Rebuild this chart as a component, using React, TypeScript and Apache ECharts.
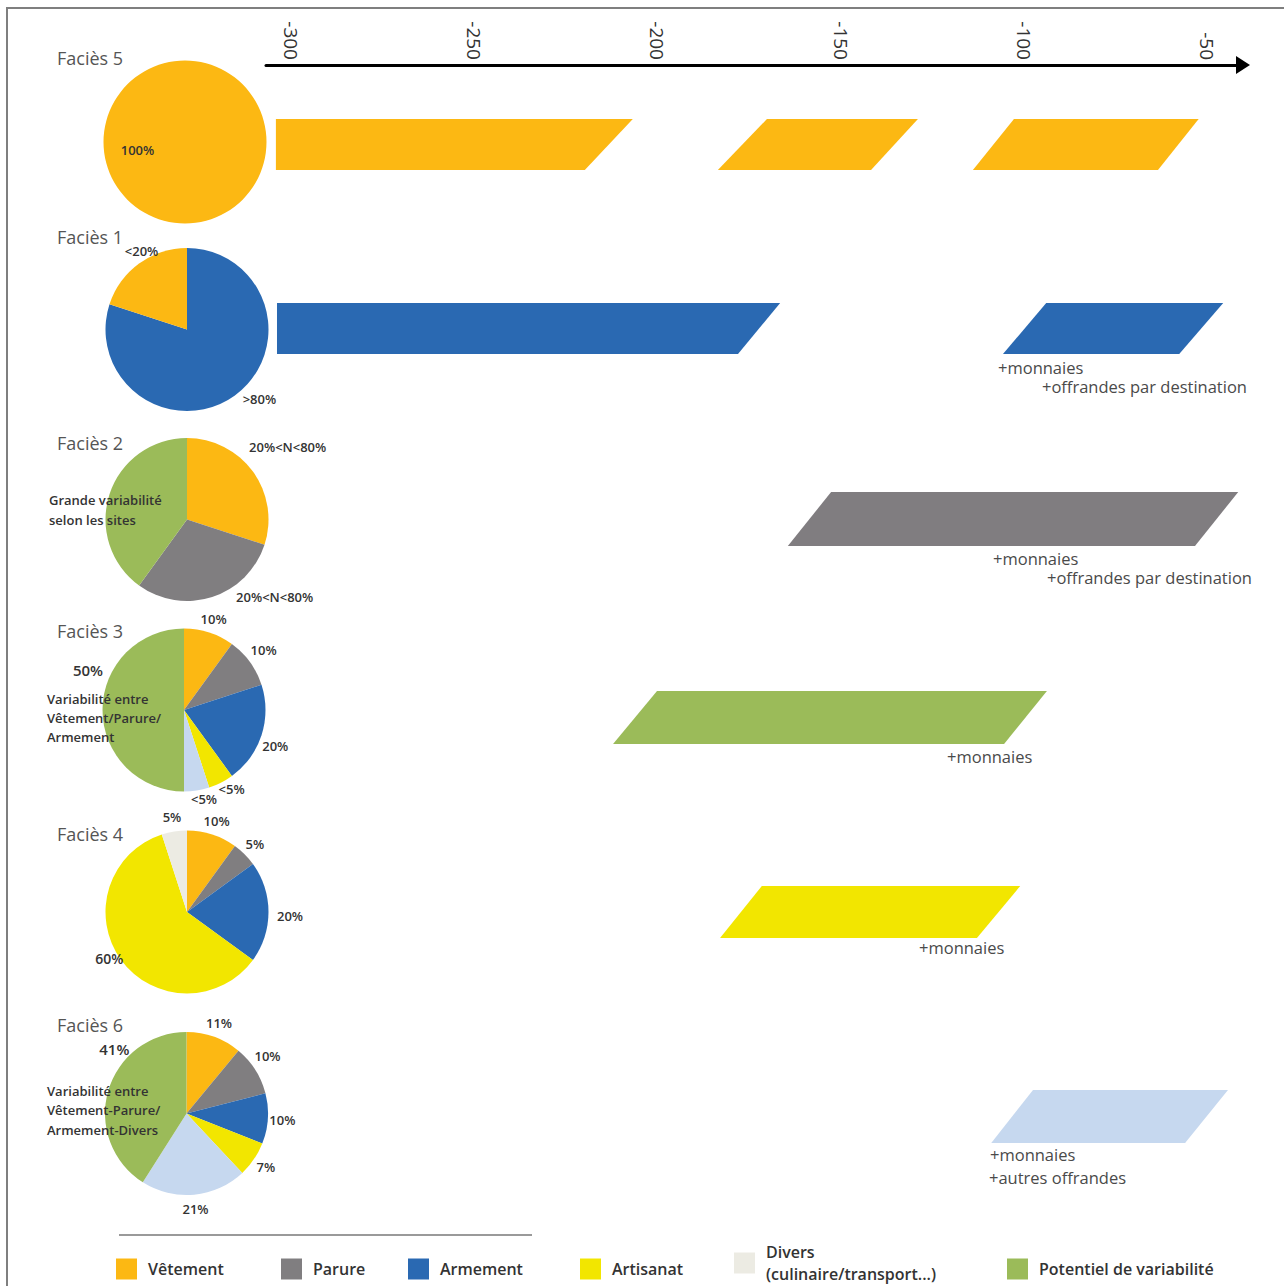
import React, { useEffect, useRef } from 'react';
import * as echarts from 'echarts';

// ---------- DATA ----------
const FACIES = ['Faciès 5', 'Faciès 1', 'Faciès 2', 'Faciès 3', 'Faciès 4', 'Faciès 6'];
const AXIS_TICKS = [-300, -250, -200, -150, -100, -50];
const AXIS_MIN = -306.8;
const AXIS_MAX = -40.2;

// each bar: [top start, top end, bottom start, bottom end] (years)
const BARS_F5 = [[-304.1, -206.7, -304.1, -219.8], [-170.1, -128.9, -183.5, -141.7], [-102.7, -52.3, -113.9, -63.4]];
const BARS_F1 = [[-303.8, -166.5, -303.8, -178.0], [-93.9, -45.6, -105.7, -57.6]];
const BARS_F2 = [[-152.6, -41.5, -164.4, -53.3]];
const BARS_F3 = [[-200.1, -93.7, -212.1, -105.4]];
const BARS_F4 = [[-171.5, -101.0, -182.9, -112.8]];
const BARS_F6 = [[-97.5, -44.3, -108.9, -56.0]];

const CATS_F5 = ['Vêtement'];
const VALUES_F5 = [100];
const LABELS_F5 = ['100%'];
const CATS_F1 = ['Armement', 'Vêtement'];
const VALUES_F1 = [80, 20];
const LABELS_F1 = ['>80%', '<20%'];
const CATS_F2 = ['Vêtement', 'Parure', 'Potentiel de variabilité'];
const VALUES_F2 = [30, 30, 40];
const LABELS_F2 = ['20%<N<80%', '20%<N<80%', ''];
const CATS_F3 = ['Vêtement', 'Parure', 'Armement', 'Artisanat', 'Autres', 'Potentiel de variabilité'];
const VALUES_F3 = [10, 10, 20, 5, 5, 50];
const LABELS_F3 = ['10%', '10%', '20%', '<5%', '<5%', '50%'];
const CATS_F4 = ['Vêtement', 'Parure', 'Armement', 'Artisanat', 'Divers'];
const VALUES_F4 = [10, 5, 20, 60, 5];
const LABELS_F4 = ['10%', '5%', '20%', '60%', '5%'];
const CATS_F6 = ['Vêtement', 'Parure', 'Armement', 'Artisanat', 'Autres', 'Potentiel de variabilité'];
const VALUES_F6 = [11, 10, 10, 7, 21, 41];
const LABELS_F6 = ['11%', '10%', '10%', '7%', '21%', '41%'];

const LEGEND_NAMES = ['Vêtement', 'Parure', 'Armement', 'Artisanat', 'Divers', 'Potentiel de variabilité'];
const LEGEND_TEXTS = ['Vêtement', 'Parure', 'Armement', 'Artisanat', 'Divers\n(culinaire/transport...)', 'Potentiel de variabilité'];

const DESCRIPTIONS = [
  'Grande variabilité\nselon les sites',
  'Variabilité entre\nVêtement/Parure/\nArmement',
  'Variabilité entre\nVêtement-Parure/\nArmement-Divers',
];
const NOTES = ['+monnaies', '+offrandes par destination', '+monnaies', '+offrandes par destination', '+monnaies', '+monnaies', '+monnaies', '+autres offrandes'];

// ---------- STYLE / LAYOUT ----------
const COLORS: Record<string, string> = {
  'Vêtement': '#FCB813',
  'Parure': '#807E80',
  'Armement': '#2A69B2',
  'Artisanat': '#F2E600',
  'Divers': '#ECEBE3',
  'Autres': '#C6D8EF',
  'Potentiel de variabilité': '#9BBB59',
};
const BAR_COLORS = ['#FCB813', '#2A69B2', '#807D80', '#9BBB59', '#F2E600', '#C6D8EF'];
const FONT = '"Open Sans", "Noto Sans", sans-serif';

const ROW_TOP = [119, 303, 492, 691, 886, 1090];
const ROW_H = [51, 51, 54, 53, 52, 53];
const GRID_LEFT = 266;
const GRID_WIDTH = 977;
const AXIS_LINE_Y = 65;
const PIE_CENTERS = [[185, 142], [187, 329.5], [187, 519.5], [184, 710], [187, 912], [186.5, 1113.5]];
const PIE_R = 81.5;
const LABEL_RING = [81.5, 104.5];
const TITLE_POS = [[57, 58], [57, 237], [57, 443], [57, 631], [57, 834], [57, 1025]];
const DESC_POS = [[49, 510, 20], [47, 718, 19], [47, 1110, 19.5]];
const NOTE_POS = [[998, 367], [1042, 386], [993, 558], [1047, 577], [947, 756], [919, 947], [990, 1154], [989, 1177]];
const LEGEND_LEFT = [116, 281, 408, 580, 734, 1007];
const LEGEND_TOP = [1258, 1258, 1258, 1258, 1241, 1258];

const LABEL_TWEAKS: Record<number, Record<number, any>> = {
  0: { 0: { offset: [-47.5, -88] } },
  1: { 0: { offset: [16, -8] }, 1: { offset: [11, -1] } },
  2: { 0: { offset: [23, -16] }, 1: { offset: [58, -14] } },
  3: { 1: { offset: [2, -4] }, 2: { offset: [0, 6] }, 3: { offset: [4, -7] }, 4: { offset: [5, -6] }, 5: { offset: [0, -40], fontSize: 15 } },
  4: { 2: { offset: [7, 4] }, 3: { offset: [0, -10], fontSize: 14 } },
  5: { 1: { offset: [0, -6] }, 5: { offset: [20, -38], fontSize: 15 } },
};

const ROW_BARS = [BARS_F5, BARS_F1, BARS_F2, BARS_F3, BARS_F4, BARS_F6];
const ROW_CATS = [CATS_F5, CATS_F1, CATS_F2, CATS_F3, CATS_F4, CATS_F6];
const ROW_VALUES = [VALUES_F5, VALUES_F1, VALUES_F2, VALUES_F3, VALUES_F4, VALUES_F6];
const ROW_LABELS = [LABELS_F5, LABELS_F1, LABELS_F2, LABELS_F3, LABELS_F4, LABELS_F6];

function buildOption(): any {
  const grid = ROW_TOP.map((top, i) => ({
    left: GRID_LEFT, width: GRID_WIDTH, top, height: ROW_H[i],
    containLabel: false, outerBoundsMode: 'none',
  }));

  const xAxis = ROW_TOP.map((top, i) => ({
    gridIndex: i,
    type: 'value',
    min: AXIS_MIN,
    max: AXIS_MAX,
    position: 'top',
    show: i === 0,
    offset: i === 0 ? top - AXIS_LINE_Y : 0,
    splitLine: { show: false },
    axisTick: { show: false },
    axisLine: {
      show: true,
      onZero: false,
      symbol: ['none', 'triangle'],
      symbolSize: [18, 14],
      lineStyle: { color: '#000', width: 3 },
    },
    axisLabel: {
      show: true,
      rotate: 90,
      margin: 5,
      fontSize: 19,
      fontFamily: FONT,
      color: '#333',
      customValues: AXIS_TICKS,
      formatter: (v: number) => (AXIS_TICKS.indexOf(Math.round(v)) >= 0 && Math.abs(v - Math.round(v)) < 1e-6 ? String(v) : ''),
    },
  }));

  const yAxis = ROW_TOP.map((_, i) => ({
    gridIndex: i, type: 'value', min: 0, max: 1, show: false,
  }));

  const barSeries = ROW_BARS.map((bars, i) => ({
    type: 'custom',
    xAxisIndex: i,
    yAxisIndex: i,
    silent: true,
    clip: false,
    data: bars,
    renderItem: (_p: any, api: any) => {
      const a = api.coord([api.value(0), 1]);
      const b = api.coord([api.value(1), 1]);
      const c = api.coord([api.value(3), 0]);
      const d = api.coord([api.value(2), 0]);
      return {
        type: 'polygon',
        shape: { points: [a, b, c, d] },
        style: { fill: BAR_COLORS[i] },
      };
    },
  }));

  const pieSeries: any[] = [];
  ROW_CATS.forEach((cats, i) => {
    pieSeries.push({
      type: 'pie',
      center: PIE_CENTERS[i],
      radius: [0, PIE_R],
      startAngle: 90,
      clockwise: true,
      avoidLabelOverlap: false,
      silent: true,
      label: { show: false },
      labelLine: { show: false },
      emphasis: { disabled: true },
      itemStyle: { borderWidth: 0 },
      data: cats.map((c, j) => ({ name: c, value: ROW_VALUES[i][j], itemStyle: { color: COLORS[c] } })),
    });
    pieSeries.push({
      type: 'pie',
      center: PIE_CENTERS[i],
      radius: LABEL_RING,
      startAngle: 90,
      clockwise: true,
      avoidLabelOverlap: false,
      silent: true,
      legendHoverLink: false,
      emphasis: { disabled: true },
      itemStyle: { color: 'rgba(0,0,0,0)', borderWidth: 0 },
      labelLine: { show: false },
      label: {
        show: true,
        position: 'inside',
        fontFamily: FONT,
        fontSize: 13,
        fontWeight: 600,
        color: '#333',
        formatter: (p: any) => ROW_LABELS[i][p.dataIndex],
      },
      data: cats.map((c, j) => {
        const tweak = (LABEL_TWEAKS[i] || {})[j];
        const item: any = { name: c, value: ROW_VALUES[i][j], itemStyle: { color: 'rgba(0,0,0,0)' } };
        if (tweak) item.label = { ...tweak };
        return item;
      }),
    });
  });

  const legend = LEGEND_NAMES.map((name, i) => ({
    data: [{ name, itemStyle: { color: COLORS[name] } }],
    left: LEGEND_LEFT[i],
    top: LEGEND_TOP[i],
    padding: 0,
    itemWidth: 21,
    itemHeight: 21,
    icon: 'rect',
    selectedMode: false,
    formatter: () => LEGEND_TEXTS[i],
    textStyle: {
      fontFamily: FONT, fontSize: 16, fontWeight: 600, color: '#333',
      padding: [0, 0, 0, 6], lineHeight: 22,
    },
  }));

  const graphic: any[] = [
    {
      type: 'rect', silent: true, z: 100,
      shape: { x: 7, y: 8, width: 1300, height: 1300 },
      style: { fill: 'none', stroke: '#7f7f7f', lineWidth: 2 },
    },
    {
      type: 'line', silent: true, z: 100,
      shape: { x1: 119, y1: 1235, x2: 532, y2: 1235 },
      style: { stroke: '#9a9a9a', lineWidth: 2 },
    },
  ];
  FACIES.forEach((t, i) => {
    graphic.push({
      type: 'text', silent: true, z: 100, x: TITLE_POS[i][0], y: TITLE_POS[i][1],
      style: { text: t, fontFamily: FONT, fontSize: 18, fill: '#555', align: 'left', verticalAlign: 'middle' },
    });
  });
  DESCRIPTIONS.forEach((t, i) => {
    graphic.push({
      type: 'text', silent: true, z: 100, x: DESC_POS[i][0], y: DESC_POS[i][1],
      style: {
        text: t, fontFamily: FONT, fontSize: 13, fontWeight: 600, fill: '#333',
        lineHeight: DESC_POS[i][2], align: 'left', verticalAlign: 'middle',
      },
    });
  });
  NOTES.forEach((t, i) => {
    graphic.push({
      type: 'text', silent: true, z: 100, x: NOTE_POS[i][0], y: NOTE_POS[i][1],
      style: { text: t, fontFamily: FONT, fontSize: 16.5, fill: '#4a4a4a', align: 'left', verticalAlign: 'middle' },
    });
  });

  return {
    animation: false,
    backgroundColor: '#fff',
    textStyle: { fontFamily: FONT },
    grid,
    xAxis,
    yAxis,
    legend,
    series: [...barSeries, ...pieSeries],
    graphic,
  };
}

export default function App() {
  const ref = useRef<HTMLDivElement>(null);
  useEffect(() => {
    if (!ref.current) return;
    const chart = echarts.init(ref.current, undefined, { renderer: 'svg' });
    chart.setOption(buildOption());
    return () => chart.dispose();
  }, []);
  return (
    <div
      ref={ref}
      style={{ position: 'fixed', left: 0, top: 0, width: 1284, height: 1286, background: '#fff' }}
    />
  );
}
